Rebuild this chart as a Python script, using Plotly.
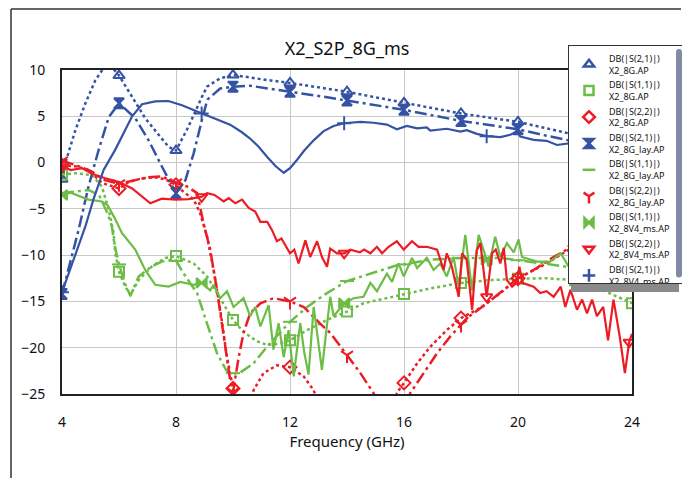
import plotly.graph_objects as go

BLUE = "#3553a4"
GREEN = "#6cbd45"
RED = "#ed1c24"

# ---------------- data (dB vs GHz) ----------------
f_s21_ap = [4, 4.15, 4.47, 4.82, 5.17, 5.46, 5.7, 6, 6.46, 6.92, 7.39, 7.74, 8, 8.44, 8.91, 9.09,
            9.55, 10, 10.6, 11, 12, 13, 14, 15, 16, 17, 18, 19, 20, 21, 22, 23, 24]
v_s21_ap = [-1.8, 0.3, 3.5, 6.4, 8.9, 10.2, 10.5, 9.4, 7.1, 4.8, 3.0, 1.7, 1.3, 3.9, 7.1, 8.2,
            9.1, 9.45, 9.2, 9.0, 8.6, 8.15, 7.65, 7.05, 6.45, 5.9, 5.3, 4.85, 4.4, 3.7, 3.0, 2.5, 2.0]

f_s11_ap = [4, 4.47, 5.05, 5.4, 5.64, 5.81, 5.87, 6, 6.22, 6.4, 6.69, 7.16, 7.62, 8, 8.62, 9.09,
            9.44, 9.79, 10, 10.37, 10.84, 11.19, 11.6, 12, 12.6, 13.3, 14, 14.58, 15.3, 16, 16.92,
            18, 19, 20, 21, 22, 22.7, 23.35, 24]
v_s11_ap = [-1.3, -1.15, -1.35, -2.6, -5.1, -7.6, -9.8, -11.8, -13.4, -14.3, -12.7, -11.2, -10.3,
            -10.1, -10.9, -12.3, -14.1, -15.9, -17.0, -18.3, -19.3, -19.7, -19.6, -19.2, -18.1,
            -17.0, -16.1, -15.2, -14.7, -14.2, -13.6, -13.0, -12.7, -12.55, -12.5, -12.7, -13.4,
            -14.3, -15.2]

f_s22_ap = [4, 4.47, 4.93, 5.4, 6, 6.34, 6.8, 7.27, 7.62, 8, 8.2, 8.62, 8.85, 9.09, 9.32, 9.55,
            9.79, 10, 10.1, 10.4, 10.6, 10.72, 11.07, 11.54, 12, 12.48, 12.83, 13.1, 13.5, 14,
            15.5, 15.6, 15.75, 16, 16.46, 16.92, 17.5, 18, 18.44, 18.68, 19.38, 20, 21, 22, 23, 24]
v_s22_ap = [-0.3, -0.4, -0.8, -2.2, -2.8, -2.1, -1.7, -1.6, -1.8, -2.4, -3.0, -4.0, -5.5, -8.0,
            -11.6, -15.9, -21.0, -24.4, -27, -30, -27, -24.6, -22.75, -21.9, -22.1, -23.1, -24.6,
            -27, -30, -32, -30, -27, -24.9, -23.8, -21.7, -19.9, -18.1, -16.8, -16.1, -15.7,
            -14.1, -12.5, -10.9, -9.0, -7.3, -5.6]

f_s21_lay = [4, 4.3, 4.58, 4.93, 5.28, 5.64, 6, 6.57, 7.04, 7.5, 7.8, 8, 8.33, 8.62, 8.91, 9.1,
             9.55, 10, 10.6, 11, 12, 13, 14, 15, 16, 17, 18, 19, 20, 21, 22, 23, 24]
v_s21_lay = [-14.2, -10.5, -7.3, -2.6, 1.3, 4.9, 6.4, 4.8, 2.4, -0.4, -2.2, -3.3, -1.9, 1.0, 4.6,
             6.8, 8.0, 8.2, 8.3, 8.1, 7.65, 7.2, 6.7, 6.2, 5.7, 5.1, 4.5, 4.05, 3.6, 2.9, 2.25,
             1.9, 1.6]

f_s11_lay = [4, 4.47, 4.93, 5.3, 5.6, 5.75, 5.85, 6, 6.2, 6.4, 6.69, 7.16, 7.5, 7.86, 8, 8.27,
             8.74, 9.09, 9.44, 9.79, 10, 10.2, 10.72, 11.19, 11.66, 12, 12.6, 13.3, 14, 14.8,
             15.75, 16, 16.9, 18, 19.4, 20, 20.4, 21.6, 22, 23.35, 24]
v_s11_lay = [-3.3, -3.1, -2.96, -3.5, -5.5, -6.9, -9.0, -11.0, -13.0, -14.4, -12.3, -11.2, -10.7,
             -10.5, -10.6, -12.0, -14.1, -17.4, -20.6, -22.6, -22.75, -22.8, -21.7, -19.9, -18.3,
             -17.2, -15.6, -14.1, -12.8, -12.0, -11.1, -11.0, -10.5, -10.3, -10.3, -10.55, -10.7,
             -11.2, -11.4, -12.0, -12.2]

f_s22_lay = [4, 4.5, 5, 5.5, 6, 6.4, 7, 7.5, 8, 8.4, 8.74, 8.97, 9.2, 9.44, 9.61, 9.73, 9.9, 10,
             10.2, 10.37, 10.6, 10.96, 11.42, 12, 12.48, 13.06, 13.41, 14, 14.47, 14.93, 15.2,
             15.6, 16, 16.22, 16.69, 17.16, 17.62, 18, 18.21, 18.91, 19.61, 20, 20.55, 21.25, 22,
             22.65, 23.3, 24]
v_s22_lay = [0.2, -0.3, -0.9, -1.9, -2.3, -2.0, -1.6, -1.5, -2.2, -2.6, -3.3, -6.6, -9.4, -13.8,
             -17.4, -20.2, -23.5, -24.8, -21.0, -18.4, -16.3, -15.2, -14.65, -15.0, -15.6, -17.4,
             -18.4, -20.8, -22.75, -24.9, -27, -30, -27.5, -24.9, -22.75, -20.6, -18.8, -17.5,
             -16.8, -15.2, -13.4, -12.5, -11.6, -10.2, -8.9, -7.1, -5.6, -4.0]

f_s11_ms = [4, 4.3, 4.93, 5.4, 5.6, 5.85, 6.1, 6.57, 6.92, 7.27, 7.74, 8.15, 8.62, 8.9, 9.2, 9.32,
            9.55, 9.79, 10.02, 10.37, 10.6, 10.78, 10.96, 11.25, 11.42, 11.6, 11.78, 11.95, 12.13,
            12.36, 12.5, 12.65, 12.83, 13.12, 13.41, 13.53, 13.9, 14.23, 14.58, 14.82, 15.05,
            15.4, 15.58, 15.81, 15.99, 16.28, 16.46, 16.8, 17.04, 17.27, 17.5, 17.74, 17.92,
            18.15, 18.39, 18.62, 18.9, 18.97, 19.2, 19.38, 19.61, 19.85, 20.02, 20.14, 20.67,
            21.13, 21.5, 21.78, 22.07, 22.3, 22.6, 22.9, 23.2, 23.5, 23.9, 24]
v_s11_ms = [-3.5, -3.25, -4.0, -4.2, -4.6, -6.0, -7.6, -9.4, -11.6, -13.2, -13.4, -12.9, -13.2,
            -13.0, -13.8, -13.2, -14.65, -13.9, -15.6, -14.65, -16.6, -15.6, -17.7, -15.4, -20.2,
            -17.35, -21.0, -18.1, -23.1, -17.35, -20.5, -22.9, -15.6, -22.4, -14.5, -16.6, -15.2,
            -14.65, -14.5, -13.0, -13.9, -12.0, -12.9, -10.9, -12.3, -10.3, -11.4, -10.3, -11.6,
            -10.9, -12.3, -10.2, -13.4, -7.8, -13.8, -7.8, -10.5, -11.25, -8.0, -10.2, -8.7, -9.7,
            -8.3, -10.2, -10.7, -10.7, -9.8, -11.25, -9.6, -11.6, -11.6, -10.5, -11.5, -10.0,
            -11.8, -11.5]

f_s22_ms = [4, 4.3, 4.7, 5.05, 5.52, 6, 6.46, 6.81, 7.1, 7.5, 8, 8.44, 8.9, 9.09, 9.35, 9.67,
            9.85, 10.08, 10.32, 10.55, 10.78, 10.96, 11.2, 11.37, 11.54, 11.7, 11.84, 12.0, 12.15,
            12.3, 12.54, 12.71, 12.95, 13.12, 13.3, 13.41, 13.65, 13.9, 14.12, 14.45, 14.6, 14.82,
            15.05, 15.23, 15.46, 15.75, 15.99, 16.28, 16.51, 16.8, 17.16, 17.39, 17.5, 17.68,
            17.92, 18.04, 18.2, 18.39, 18.55, 18.68, 18.9, 19.09, 19.22, 19.38, 19.5, 19.61,
            19.79, 19.95, 20.05, 20.15, 20.55, 20.78, 21.0, 21.25, 21.5, 21.66, 21.84, 22.07,
            22.25, 22.42, 22.6, 22.77, 22.99, 23.16, 23.35, 23.57, 23.75, 23.9, 24]
v_s22_ms = [-0.3, -0.8, -0.6, -1.2, -1.7, -2.1, -2.8, -3.7, -4.4, -3.9, -4.0, -3.95, -3.7, -3.3,
            -3.5, -4.2, -3.85, -4.4, -4.0, -4.9, -5.3, -6.4, -6.4, -7.3, -8.5, -8.2, -8.9, -9.8,
            -9.4, -10.9, -8.4, -10.2, -8.5, -10.2, -11.25, -9.3, -9.8, -9.8, -9.4, -9.7, -9.4,
            -9.8, -9.1, -9.8, -9.1, -8.5, -9.4, -8.5, -9.1, -9.1, -9.4, -11.6, -9.8, -11.25,
            -14.5, -9.8, -10.5, -15.9, -9.5, -8.7, -14.5, -9.8, -9.4, -10.9, -9.2, -12.7, -13.4,
            -13.0, -11.25, -13.0, -13.4, -14.1, -13.9, -14.5, -13.4, -15.6, -13.75, -15.9, -14.8,
            -16.3, -14.8, -16.6, -15.6, -19.2, -14.8, -18.8, -22.75, -19.4, -18.5]

f_s21_ms = [4, 4.4, 4.82, 5.1, 5.46, 5.87, 6.2, 6.46, 6.81, 7.27, 7.73, 8.21, 8.68, 8.9, 9.4,
            9.9, 10.3, 10.6, 10.9, 11.2, 11.5, 11.78, 12.0, 12.25, 12.5, 12.83, 13.18, 13.53,
            13.9, 14.47, 14.93, 15.4, 15.75, 16.1, 16.46, 16.8, 16.92, 17.5, 17.98, 18.2, 18.56,
            18.9, 19.38, 19.73, 19.96, 20.08, 20.55, 21.0, 21.37, 21.84, 22.5, 23.0, 23.5, 23.9, 24]
v_s21_ms = [-14.0, -10.5, -6.9, -4.0, -0.8, 1.4, 3.4, 5.0, 6.3, 6.6, 6.65, 6.2, 5.6, 5.3, 4.7,
            4.1, 3.3, 2.6, 1.7, 0.6, -0.4, -1.1, -0.6, 0.3, 1.3, 2.4, 3.4, 3.95, 4.25, 4.4, 4.3,
            4.1, 3.6, 3.95, 3.7, 3.8, 3.45, 3.65, 3.35, 3.5, 3.1, 2.85, 2.75, 3.0, 3.35, 2.8,
            2.45, 2.35, 1.9, 2.1, 1.9, 1.95, 1.8, 1.9, 1.9]

MK_AP = [4, 6, 8, 10, 12, 14, 16, 18, 20, 22, 24]
MK_MS = [4, 8.9, 13.9, 18.9, 23.9]

x_ticks = [4, 8, 12, 16, 20, 24]
y_ticks = [10, 5, 0, -5, -10, -15, -20, -25]

DOT = "dot"
DASHDOT = "12px,4px,3px,4px"

series = [
    ("DB(|S(2,1)|)<br>X2_8G.AP", f_s21_ap, v_s21_ap, BLUE, DOT, "triangle-up-open", MK_AP),
    ("DB(|S(1,1)|)<br>X2_8G.AP", f_s11_ap, v_s11_ap, GREEN, DOT, "square-open", MK_AP),
    ("DB(|S(2,2)|)<br>X2_8G.AP", f_s22_ap, v_s22_ap, RED, DOT, "diamond-open", MK_AP),
    ("DB(|S(2,1)|)<br>X2_8G_lay.AP", f_s21_lay, v_s21_lay, BLUE, DASHDOT, "hourglass", MK_AP),
    ("DB(|S(1,1)|)<br>X2_8G_lay.AP", f_s11_lay, v_s11_lay, GREEN, DASHDOT, "line-ew-open", MK_AP),
    ("DB(|S(2,2)|)<br>X2_8G_lay.AP", f_s22_lay, v_s22_lay, RED, DASHDOT, "y-down-open", MK_AP),
    ("DB(|S(1,1)|)<br>X2_8V4_ms.AP", f_s11_ms, v_s11_ms, GREEN, "solid", "bowtie", MK_MS),
    ("DB(|S(2,2)|)<br>X2_8V4_ms.AP", f_s22_ms, v_s22_ms, RED, "solid", "triangle-down-open", MK_MS),
    ("DB(|S(2,1)|)<br>X2_8V4_ms.AP", f_s21_ms, v_s21_ms, BLUE, "solid", "cross-thin-open", MK_MS),
]

fig = go.Figure()

for name, fx, vy, col, dash, sym, mks in series:
    fig.add_trace(go.Scatter(x=fx, y=vy, mode="lines", showlegend=False,
                             line=dict(color=col, width=2.5 if dash != "solid" else 2.2, dash=dash)))
    mx = [a for a in fx if any(abs(a - m) < 1e-6 for m in mks)]
    my = [b for a, b in zip(fx, vy) if any(abs(a - m) < 1e-6 for m in mks)]
    fig.add_trace(go.Scatter(x=mx, y=my, mode="markers", showlegend=False,
                             marker=dict(symbol=sym, size=10, color=col,
                                         line=dict(color=col, width=2))))

for name, fx, vy, col, dash, sym, mks in series:
    fig.add_trace(go.Scatter(x=[None], y=[None], mode="markers", name=name,
                             marker=dict(symbol=sym, size=9, color=col,
                                         line=dict(color=col, width=2.5))))

FONT = "Noto Sans, Open Sans, sans-serif"

# page offset of the figure inside the html body (default body margin)
OFF = 8
W, H = 690, 478
PL, PR, PT, PB = 62, 632, 70, 394   # plot area in page pixels


def px_x(p):
    return (p - PL) / float(PR - PL)


def px_y(p):
    return (PB - p) / float(PB - PT)


LEG_L, LEG_T = 568, 45
LEG_R, LEG_B = 676, 289

fig.update_layout(
    width=W, height=H,
    margin=dict(l=PL - OFF, r=W - (PR - OFF), t=PT - OFF, b=H - (PB - OFF), autoexpand=False),
    paper_bgcolor="white", plot_bgcolor="white",
    font=dict(family=FONT, color="#111"),
    title=dict(text="X2_S2P_8G_ms", x=0.5, xref="paper", y=1 - (49 - OFF) / H, yref="container",
               xanchor="center", yanchor="middle", font=dict(size=18, family=FONT, color="#111")),
    xaxis=dict(range=[4, 24], tickvals=x_ticks, showgrid=True, gridcolor="#c8c8c8", gridwidth=1,
               showline=True, linecolor="#222", linewidth=2, mirror=True, zeroline=False,
               ticks="outside", ticklen=14, tickcolor="rgba(0,0,0,0)",
               tickfont=dict(size=14),
               title=dict(text="Frequency (GHz)", font=dict(size=15), standoff=2)),
    yaxis=dict(range=[-25, 10], tickvals=y_ticks, showgrid=True, gridcolor="#c8c8c8", gridwidth=1,
               showline=True, linecolor="#222", linewidth=2, mirror=True, zeroline=False,
               ticks="outside", ticklen=12, tickcolor="rgba(0,0,0,0)",
               tickfont=dict(size=14)),
    legend=dict(x=px_x(LEG_L), y=px_y(LEG_T), xanchor="left", yanchor="top",
                bgcolor="white", bordercolor="#333", borderwidth=1,
                font=dict(size=9, family=FONT), itemwidth=30, tracegroupgap=0),
    shapes=[
        dict(type="line", xref="paper", yref="paper", x0=px_x(11), x1=px_x(681),
             y0=px_y(OFF + 1), y1=px_y(OFF + 1), line=dict(color="#333", width=1.5)),
        dict(type="line", xref="paper", yref="paper", x0=px_x(11), x1=px_x(11),
             y0=px_y(OFF + 1), y1=px_y(490), line=dict(color="#333", width=1.5)),
        dict(type="rect", xref="paper", yref="paper", layer="above",
             x0=px_x(LEG_L + 3), x1=px_x(LEG_R + 3), y0=px_y(LEG_T + 3), y1=px_y(LEG_B + 3),
             fillcolor="#8a8a8a", line=dict(width=0)),
    ],
)

fig.write_html("out.html")
